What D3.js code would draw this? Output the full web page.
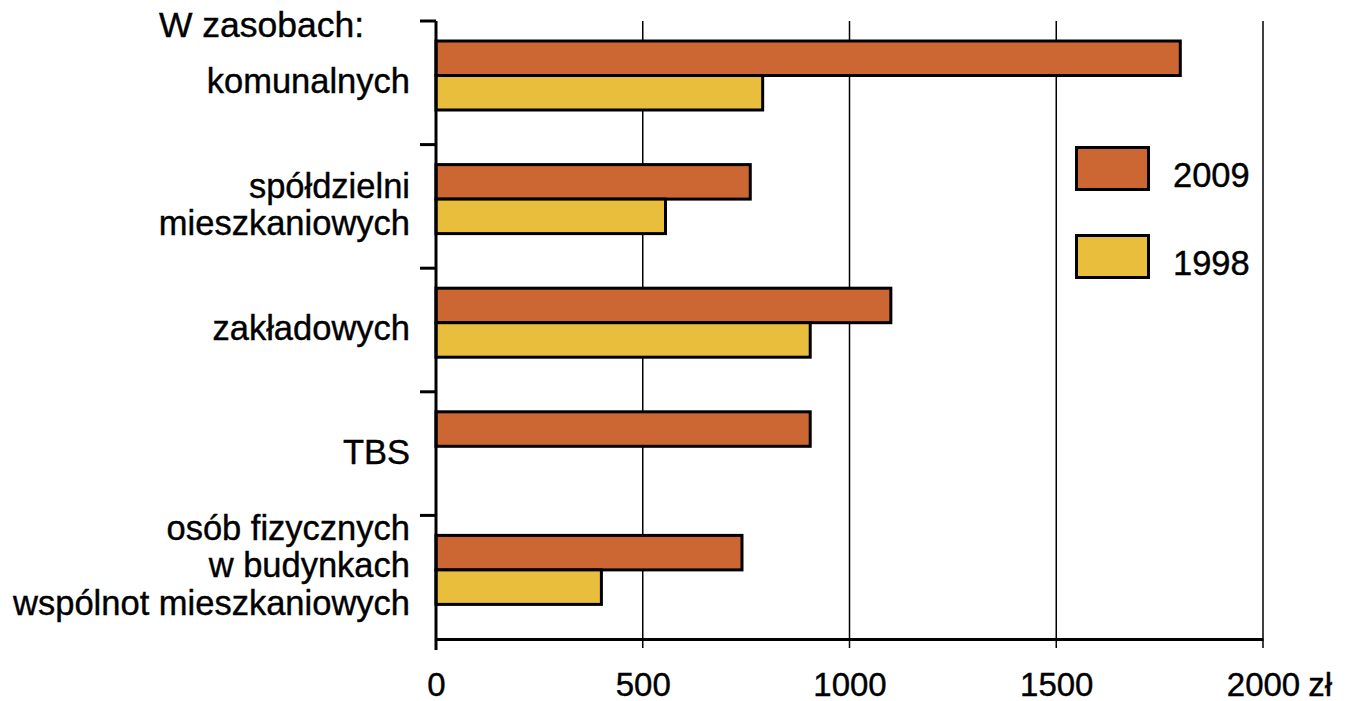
<!DOCTYPE html>
<html>
<head>
<meta charset="utf-8">
<script src="https://cdn.jsdelivr.net/npm/d3@7"></script>
<style>
  body { margin: 0; background: #fff; }
  text { font-family: "Liberation Sans", Arial, sans-serif; fill: #000; stroke: #000; stroke-width: 0.4px; }
</style>
</head>
<body>
<div id="chart"></div>
<script>
// dane z wykresu
const categories = ["komunalnych", "spółdzielni mieszkaniowych", "zakładowych", "TBS", "osób fizycznych w budynkach wspólnot mieszkaniowych"];
const labelLines = [["komunalnych"], ["spółdzielni", "mieszkaniowych"], ["zakładowych"], ["TBS"], ["osób fizycznych", "w budynkach", "wspólnot mieszkaniowych"]];
const series = ["2009", "1998"];
const values2009 = [1800, 760, 1100, 905, 740];
const values1998 = [790, 555, 905, null, 400];
const xTicks = [0, 500, 1000, 1500, 2000];
const colors = ["#cc6633", "#e8be3c"];

const width = 1346, height = 701;

const svg = d3.select("#chart")
    .append("svg")
    .attr("width", width)
    .attr("height", height);

const x = d3.scaleLinear().domain([0, 2000]).range([436, 1263]);
const y = d3.scaleBand().domain(categories).range([21, 639]);
const ySub = d3.scaleBand().domain(series).range([20, 89]);
const color = d3.scaleOrdinal().domain(series).range(colors);

const rows = categories.map((c, i) => ({
    cat: c,
    lines: labelLines[i],
    vals: [
        {s: "2009", v: values2009[i]},
        {s: "1998", v: values1998[i]}
    ].filter(d => d.v != null)
}));

// linie siatki
svg.append("g")
    .selectAll("line")
    .data(xTicks.filter(d => d > 0))
    .enter().append("line")
    .attr("x1", d => x(d))
    .attr("x2", d => x(d))
    .attr("y1", y.range()[0])
    .attr("y2", y.range()[1] + 9)
    .attr("stroke", "#000")
    .attr("stroke-width", 1.5);

// oś dolna
const xAxis = svg.append("g")
    .attr("transform", `translate(0,${y.range()[1]})`)
    .call(d3.axisBottom(x).tickValues(xTicks).tickFormat(d3.format("d"))
        .tickSize(0).tickSizeOuter(0).tickPadding(34));

xAxis.select(".domain").attr("stroke", "#000").attr("stroke-width", 3);
xAxis.selectAll("text")
    .attr("font-size", 33)
    .attr("font-family", "'Liberation Sans', Arial, sans-serif");

// "2000 zł" – liczba wyśrodkowana na linii, jednostka dopisana z prawej
const lastText = xAxis.selectAll(".tick text").filter(d => d === 2000);
const w = lastText.node().getComputedTextLength();
lastText.attr("text-anchor", "start").attr("x", -w / 2);
lastText.append("tspan").attr("dx", 8).text("zł");

// słupki
const groups = svg.append("g")
    .selectAll("g")
    .data(rows)
    .enter().append("g")
    .attr("transform", d => `translate(0,${y(d.cat)})`);

groups.selectAll("rect")
    .data(d => d.vals)
    .enter().append("rect")
    .attr("x", x(0))
    .attr("y", d => ySub(d.s))
    .attr("width", d => x(d.v) - x(0))
    .attr("height", ySub.bandwidth())
    .attr("fill", d => color(d.s))
    .attr("stroke", "#000")
    .attr("stroke-width", 3);

// oś lewa
svg.append("line")
    .attr("x1", x(0)).attr("x2", x(0))
    .attr("y1", y.range()[0]).attr("y2", y.range()[1] + 11)
    .attr("stroke", "#000")
    .attr("stroke-width", 3);

svg.append("g")
    .selectAll("line")
    .data(categories)
    .enter().append("line")
    .attr("x1", x(0) - 16)
    .attr("x2", x(0))
    .attr("y1", d => y(d))
    .attr("y2", d => y(d))
    .attr("stroke", "#000")
    .attr("stroke-width", 3);

// etykiety kategorii
const lh = 37.5;
const labels = svg.append("g")
    .selectAll("text")
    .data(rows)
    .enter().append("text")
    .attr("text-anchor", "end")
    .attr("font-size", 34.5);

labels.each(function(d) {
    const n = d.lines.length;
    const yc = y(d.cat) + y.bandwidth() / 2 + 10 - (n > 2 ? 10 : 0);
    d3.select(this).selectAll("tspan")
        .data(d.lines)
        .enter().append("tspan")
        .attr("x", 410)
        .attr("y", (t, i) => yc + (i - (n - 1) / 2) * lh)
        .text(t => t);
});

svg.append("text")
    .attr("x", 159)
    .attr("y", 37)
    .attr("font-size", 35.5)
    .text("W zasobach:");

// legenda
const legend = svg.append("g")
    .selectAll("g")
    .data(series)
    .enter().append("g")
    .attr("transform", (d, i) => `translate(1076.5,${147.5 + i * 88})`);

legend.append("rect")
    .attr("width", 72)
    .attr("height", 42)
    .attr("fill", d => color(d))
    .attr("stroke", "#000")
    .attr("stroke-width", 3);

legend.append("text")
    .attr("x", 96.5)
    .attr("y", 39)
    .attr("font-size", 34.5)
    .text(d => d);
</script>
</body>
</html>
